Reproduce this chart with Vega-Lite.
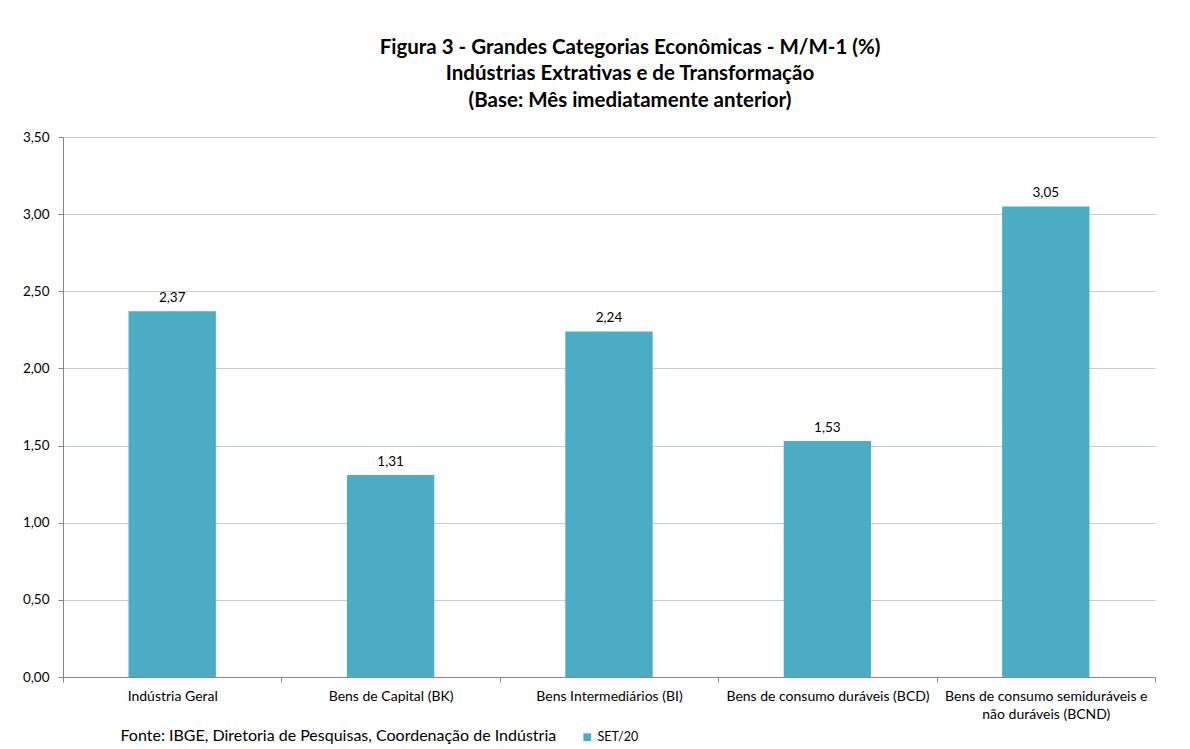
{
  "$schema": "https://vega.github.io/schema/vega-lite/v6.json",
  "width": 1092,
  "height": 540,
  "autosize": "none",
  "padding": {"left": 63, "top": 137, "right": 35, "bottom": 72},
  "background": "white",
  "config": {
    "locale": {"number": {"decimal": ",", "thousands": ".", "grouping": [3], "currency": ["R$", ""]}},
    "view": {"stroke": null},
    "font": "Lato"
  },
  "title": {
    "text": ["Figura 3 - Grandes Categorias Econômicas - M/M-1 (%)", "Indústrias Extrativas e de Transformação", "(Base: Mês imediatamente anterior)"],
    "fontSize": 20.5,
    "fontWeight": "bold",
    "color": "#000000",
    "anchor": "middle",
    "dx": 21,
    "lineHeight": 26.5,
    "offset": 19,
    "font": "Lato"
  },
  "data": {
    "values": [
      {"categoria": "Indústria Geral", "valor": 2.37, "serie": "SET/20"},
      {"categoria": "Bens de Capital (BK)", "valor": 1.31, "serie": "SET/20"},
      {"categoria": "Bens Intermediários (BI)", "valor": 2.24, "serie": "SET/20"},
      {"categoria": "Bens de consumo duráveis (BCD)", "valor": 1.53, "serie": "SET/20"},
      {"categoria": "Bens de consumo semiduráveis e não duráveis (BCND)", "valor": 3.05, "serie": "SET/20"}
    ]
  },
  "encoding": {
    "x": {
      "field": "categoria",
      "type": "nominal",
      "sort": null,
      "scale": {"paddingInner": 0, "paddingOuter": 0},
      "axis": {
        "title": "Fonte: IBGE, Diretoria de Pesquisas, Coordenação de Indústria",
        "titleFont": "Lato",
        "titleFontSize": 16,
        "titleFontWeight": "normal",
        "titleColor": "#000000",
        "titleAnchor": "start",
        "titleAlign": "left",
        "titleBaseline": "alphabetic",
        "titleX": 57,
        "titleY": 63,
        "labelAngle": 0,
        "labelLimit": 0,
        "tickBand": "extent",
        "domainColor": "#868686",
        "tickColor": "#868686",
        "tickSize": 5,
        "labelFontSize": 14,
        "labelColor": "#000000",
        "labelPadding": 7,
        "labelLineHeight": 18,
        "labelExpr": "datum.value == 'Bens de consumo semiduráveis e não duráveis (BCND)' ? ['Bens de consumo semiduráveis e', 'não duráveis (BCND)'] : datum.value",
        "grid": false
      }
    },
    "y": {
      "field": "valor",
      "type": "quantitative",
      "scale": {"domain": [0, 3.5]},
      "axis": {
        "title": null,
        "values": [0, 0.5, 1, 1.5, 2, 2.5, 3, 3.5],
        "format": ".2f",
        "gridColor": "#b9cde5",
        "domainColor": "#868686",
        "tickColor": "#868686",
        "tickSize": 5,
        "labelPadding": 9,
        "labelFontSize": 13.5,
        "labelColor": "#000000"
      }
    }
  },
  "layer": [
    {
      "mark": {"type": "bar", "width": {"band": 0.4}},
      "encoding": {
        "color": {
          "field": "serie",
          "type": "nominal",
          "scale": {"range": ["#4bacc6"]},
          "legend": {
            "title": null,
            "orient": "none",
            "legendX": 518,
            "legendY": 594,
            "symbolType": "square",
            "symbolSize": 60,
            "symbolStrokeWidth": 0,
            "labelFontSize": 12.5,
            "labelColor": "#000000",
            "labelOffset": 4
          }
        }
      }
    },
    {
      "mark": {"type": "text", "dy": -9, "baseline": "alphabetic", "fontSize": 13.5, "color": "#000000"},
      "encoding": {
        "text": {"field": "valor", "type": "quantitative", "format": ".2f"}
      }
    }
  ]
}
